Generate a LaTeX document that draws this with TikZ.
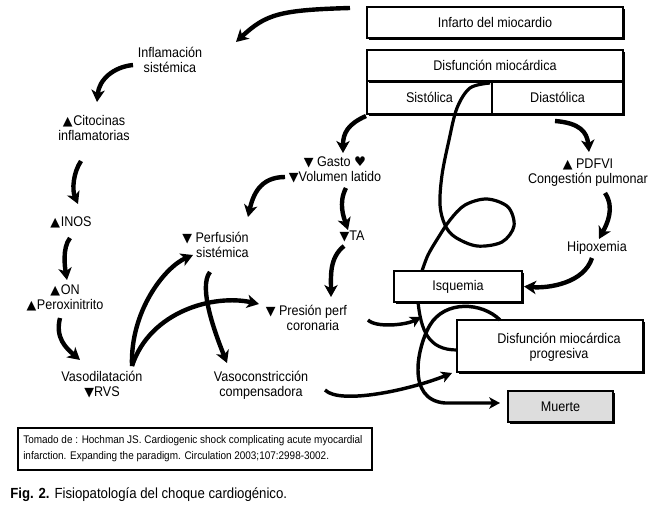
\documentclass[tikz,border=0pt]{standalone}
\usepackage{fontspec}
\setmainfont{Liberation Sans}[FakeStretch=0.9]
\newfontfamily\symfont{DejaVu Sans}
\usetikzlibrary{arrows.meta,shadows}
\newcommand{\tup}{{\symfont\fontsize{9.5}{9.5}\selectfont ▲}}
\newcommand{\tdn}{{\symfont\fontsize{9.5}{9.5}\selectfont ▼}}
\newcommand{\hrt}{{\symfont\fontsize{10}{10}\selectfont ♥}}
\definecolor{boxgray}{RGB}{221,221,221}
\tikzset{
  lbl/.style={font=\fontsize{10.5}{11.25}\selectfont, align=center, inner sep=0pt},
  box/.style={draw, line width=0.9pt, fill=white, inner sep=0pt, outer sep=0pt,
    font=\fontsize{10.5}{11.25}\selectfont, align=center,
    drop shadow={shadow xshift=1.6pt, shadow yshift=-1.6pt, fill=black, opacity=1}},
  arr/.style={line width=3.3pt, -{Stealth[length=9pt,width=10pt,inset=2.5pt]}},
  lnk/.style={line width=2.4pt},
  lnkarr/.style={line width=2.6pt, -{Stealth[length=8pt,width=8.5pt,inset=2pt]}},
}
\begin{document}
\begin{tikzpicture}[x=0.75pt,y=-0.75pt]
\useasboundingbox (0,0) rectangle (660,513);

% boxes
\node[box, minimum width=192pt, minimum height=23.25pt] (infarto) at (495,22.5) {Infarto del miocardio};
\node[box, minimum width=93.75pt, minimum height=24.75pt] (sist) at (429.5,97.5) {Sistólica};
\node[box, minimum width=98.25pt, minimum height=24.75pt] (diast) at (557.5,97.5) {Diastólica};
\node[box, minimum width=192pt, minimum height=23.25pt] (dm) at (495,65.5) {Disfunción miocárdica};
\node[box, minimum width=96pt, minimum height=23.25pt] (isq) at (458,286.5) {Isquemia};
\node[box, minimum width=139.5pt, minimum height=39pt] (dmp) at (550,346) {};
\node[lbl] (dmptxt) at (559,347) {Disfunción miocárdica\\progresiva};
\node[box, fill=boxgray, minimum width=78.75pt, minimum height=23.25pt] (muerte) at (560.5,406.5) {Muerte};

% text nodes
\node[lbl] (infl) at (170,60) {Inflamación\\sistémica};
\node[lbl] (cito) at (94,128) {\tup\kern0.5pt Citocinas\\inflamatorias};
\node[lbl] (inos) at (71,222) {\tup\kern0.5pt INOS};
\node[lbl] (on) at (65,298) {\tup\kern0.5pt ON\\\tup\kern0.5pt Peroxinitrito};
\node[lbl] (vaso) at (102,385) {Vasodilatación\\\tdn RVS};
\node[lbl, anchor=east, align=right] (perf) at (249,245) {\tdn\ Perfusión\\sistémica};
\node[lbl] (gasto) at (335,170) {\tdn\ Gasto \hrt\\\tdn Volumen latido};
\node[lbl] (ta) at (352,236) {\tdn TA};
\node[lbl] (pres) at (313,318) {\llap{\tdn\ }Presión perf\\coronaria};
\node[lbl] (vcon) at (261,385) {Vasoconstricción\\compensadora};
\node[lbl] (pdf) at (588,173) {\tup\ PDFVI\\Congestión pulmonar};
\node[lbl] (hipo) at (597,248) {Hipoxemia};

% reference box and caption
\node[draw, line width=1.1pt, fill=white, inner sep=0pt, outer sep=0pt,
  minimum width=265.5pt, minimum height=31.5pt,
  drop shadow={shadow xshift=0.8pt, shadow yshift=-0.8pt, fill=black, opacity=1}] (refbox) at (195,449) {};
\node[anchor=west, align=left, inner sep=0pt, font=\fontsize{8.3}{12}\selectfont] (reftxt) at (23,449)
  {Tomado de : Hochman JS. Cardiogenic shock complicating acute myocardial\\infarction. Expanding the paradigm. Circulation 2003;107:2998-3002.};
\node[anchor=west, inner sep=0pt, font=\fontsize{11}{12}\selectfont] (caption) at (10,495)
  {\textbf{Fig. 2.} Fisiopatología del choque cardiogénico.};

% arrows
\draw[arr] ([shift={(-145,-14.5)}]infarto.center) .. controls +(-70,2) and +(30,-28) .. ([shift={(66,-18)}]infl.center);
\draw[arr] ([shift={(-37,5)}]infl.center) .. controls +(-20,2) and +(2,-22) .. ([shift={(3,-26)}]cito.center);
\draw[arr] ([shift={(-13,33)}]cito.center) .. controls +(-8,12) and +(-6,-14) .. ([shift={(7,-18)}]inos.center);
\draw[arr] ([shift={(-1,16)}]inos.center) .. controls +(-8,10) and +(-2,-12) .. ([shift={(2,-18)}]on.center);
\draw[arr] ([shift={(-5,20)}]on.center) .. controls +(-5,20) and +(-14,-12) .. ([shift={(-22,-25)}]vaso.center);
\draw[arr] ([shift={(30,-19)}]vaso.center) .. controls +(-2,-55) and +(-28,12) .. ([shift={(-56,10)}]perf.east);
\draw[arr] ([shift={(30,-19)}]vaso.center) .. controls +(18,-55) and +(-45,-10) .. ([shift={(-54,-14)}]pres.center);
\draw[arr] ([shift={(-39,27)}]perf.east) .. controls +(-12,15) and +(-12,-30) .. ([shift={(-34,-22)}]vcon.center);
\draw[arr] ([shift={(-1,2)}]sist.south west) .. controls +(-18,8) and +(0,-20) .. ([shift={(8,-17)}]gasto.center);
\draw[arr] ([shift={(-50,7)}]gasto.center) .. controls +(-25,0) and +(5,-22) .. ([shift={(-1,-28)}]perf.east);
\draw[arr] ([shift={(11,18)}]gasto.center) .. controls +(-8,15) and +(-4,-12) .. ([shift={(-4,-6)}]ta.center);
\draw[arr] ([shift={(-8,10)}]ta.center) .. controls +(-15,12) and +(0,-20) .. ([shift={(18,-21)}]pres.center);
\draw[arr] ([shift={(-2.5,23.5)}]diast.center) .. controls +(25,2) and +(-2,-20) .. ([shift={(1,-21)}]pdf.center);
\draw[arr] ([shift={(17,20)}]pdf.center) .. controls +(10,15) and +(8,-15) .. ([shift={(2,-9)}]hipo.center);
\draw[arr] ([shift={(-5,10)}]hipo.center) .. controls +(-8,25) and +(25,2) .. ([shift={(2,0)}]isq.east);

% loop from Disfuncion miocardica down to Isquemia
\draw[lnk] plot[smooth, tension=0.55] coordinates {([shift={(-2,2)}]sist.north east) (470,88) (457,108) (449,140) (442,175) (440,205) (445,225) (455,237) (477,246) (502,242) (514,226) (508,207) (487,199) (465,205) (450,220) (438,238) (428,255) ([shift={(-36,0)}]isq.north)};

% Isquemia -> Disfuncion progresiva
\draw[lnk] ([shift={(-40,0)}]isq.south) .. controls +(3,28) and +(-29,0) .. ([shift={(0,4)}]dmp.west);
% Disfuncion progresiva -> Muerte
\draw[lnkarr] ([shift={(-50,0)}]dmp.north) .. controls (482,302) and (445,300) .. (430,325) .. controls (418,345) and (405,400) .. (445,403) -- ([shift={(-8,-3.5)}]muerte.west);
% Presion perf -> Isquemia line
\draw[lnkarr] ([shift={(55,2)}]pres.center) .. controls +(8,8) and +(-15,8) .. ([shift={(-37,15)}]isq.south);
% Vasoconstriccion -> Disfuncion progresiva
\draw[lnkarr] ([shift={(64,5)}]vcon.center) .. controls +(15,15) and +(-42,17) .. ([shift={(-5,1)}]dmp.south west);
\end{tikzpicture}
\end{document}
